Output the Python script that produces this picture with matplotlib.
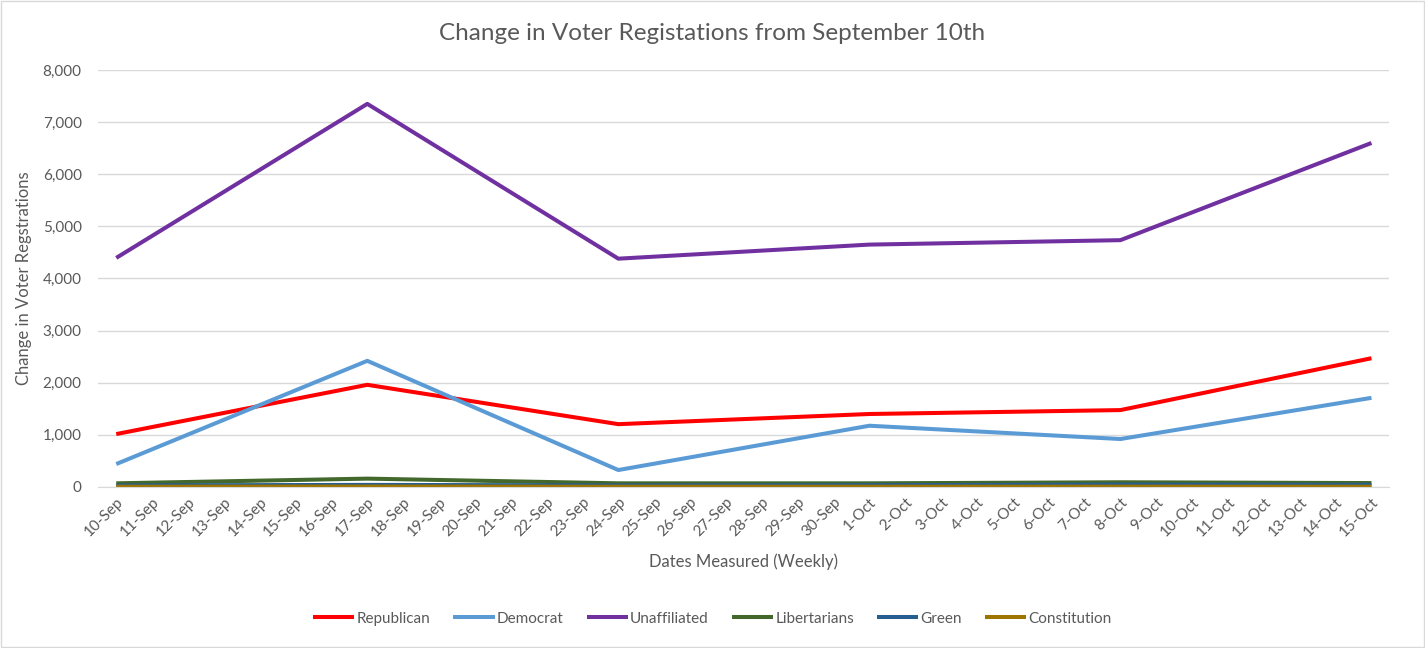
import matplotlib.pyplot as plt
import pandas as pd

plt.rcParams['font.family'] = ['Lato', 'DejaVu Sans']

# daily category labels, data measured weekly
days = pd.date_range("2020-09-10", "2020-10-15", freq="D")
day_labels = [f"{d.day}-{d.strftime('%b')}" for d in days]
measured = ["10-Sep", "17-Sep", "24-Sep", "1-Oct", "8-Oct", "15-Oct"]

republican = [1015, 1960, 1205, 1400, 1475, 2470]
democrat = [440, 2420, 325, 1175, 920, 1710]
unaffiliated = [4395, 7350, 4380, 4650, 4735, 6600]
libertarians = [70, 160, 70, 70, 90, 75]
green = [30, 40, 30, 35, 45, 40]
constitution = [5, 8, 5, 5, 6, 5]

series = [
    ("Republican", republican, "#FF0000"),
    ("Democrat", democrat, "#5B9BD5"),
    ("Unaffiliated", unaffiliated, "#7030A0"),
    ("Libertarians", libertarians, "#43682B"),
    ("Green", green, "#255E91"),
    ("Constitution", constitution, "#9E7400"),
]

text_col = "#595959"

fig = plt.figure(figsize=(14.25, 6.48), dpi=100)
ax = fig.add_axes([0.069, 0.2485, 0.906, 0.6435])

xpos = [day_labels.index(m) for m in measured]
for name, vals, col in series:
    ax.plot(xpos, vals, color=col, lw=2.9, label=name, solid_capstyle="butt")

ax.set_xlim(-0.5, len(day_labels) - 0.5)
ax.set_ylim(0, 8000)
ax.set_yticks(range(0, 8001, 1000))
ax.set_yticklabels([f"{v:,}" for v in range(0, 8001, 1000)])
ax.set_xticks(range(len(day_labels)))
ax.set_xticklabels(day_labels, rotation=45, ha="right", rotation_mode="anchor")

ax.grid(axis="y", color="#D9D9D9", lw=1)
ax.set_axisbelow(True)
for s in ["top", "right", "left"]:
    ax.spines[s].set_visible(False)
ax.spines["bottom"].set_color("#D9D9D9")
ax.tick_params(axis="both", length=0, colors=text_col, labelsize=11)
ax.tick_params(axis="y", pad=12)
ax.tick_params(axis="x", pad=6)

# title is centred on the whole chart, not the plot area
fig.text(0.5, 0.948, "Change in Voter Registations from September 10th", fontsize=17.5,
         color=text_col, ha="center", va="center")
ax.set_xlabel("Dates Measured (Weekly)", fontsize=12, color=text_col, labelpad=10)
ax.set_ylabel("Change in Voter Regstrations", fontsize=12, color=text_col, labelpad=8)

fig.legend(loc="center", bbox_to_anchor=(0.5, 0.045), ncol=6, frameon=False,
           fontsize=11, labelcolor=text_col, handlelength=2.7, columnspacing=1.5,
           handletextpad=0.15)

# light border around the chart
fig.patches.append(plt.Rectangle((0.001, 0.001), 0.998, 0.998, transform=fig.transFigure,
                                 fill=False, edgecolor="#D9D9D9", lw=1))

fig.savefig("out.png", dpi=100)
